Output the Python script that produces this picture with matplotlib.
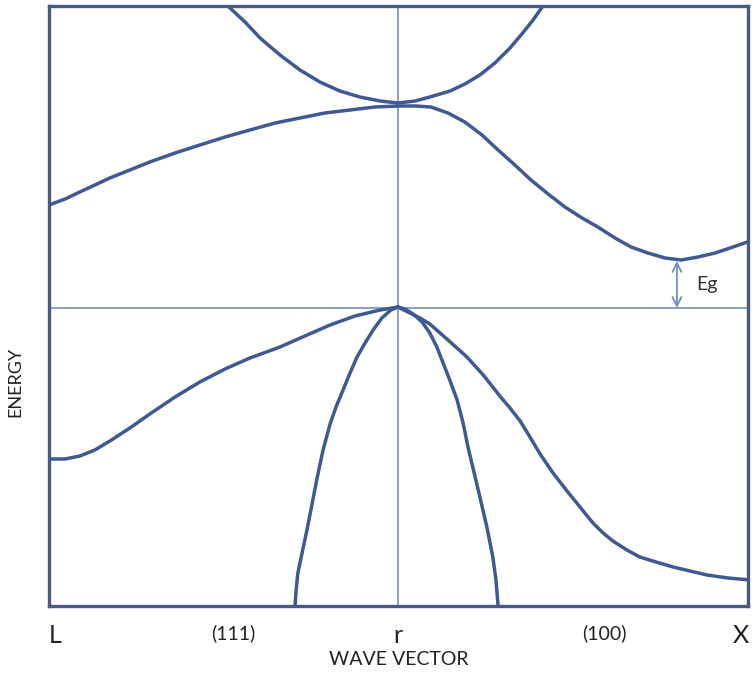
import matplotlib.pyplot as plt

# band diagram: k from L (-1) through Gamma (0) to X (+1)
# energy in arbitrary units, valence band maximum at 0

cb_upper_k = [-0.486, -0.437, -0.394, -0.337, -0.28, -0.223, -0.166, -0.109, -0.051, 0.0,
              0.049, 0.091, 0.149, 0.191, 0.234, 0.277, 0.32, 0.354, 0.386, 0.414]
cb_upper_e = [3.02, 2.86, 2.70, 2.53, 2.38, 2.26, 2.17, 2.11, 2.07, 2.05,
              2.07, 2.11, 2.17, 2.24, 2.33, 2.45, 2.60, 2.74, 2.88, 3.02]

cb_lower_k = [-0.997, -0.951, -0.909, -0.866, -0.823, -0.766, -0.709, -0.637, -0.566, -0.494,
              -0.423, -0.351, -0.28, -0.209, -0.137, -0.066, 0.0, 0.049, 0.094, 0.143,
              0.191, 0.24, 0.286, 0.334, 0.38, 0.429, 0.477, 0.526, 0.571, 0.62,
              0.666, 0.714, 0.763, 0.809, 0.857, 0.906, 0.949, 1.006]
cb_lower_e = [1.03, 1.09, 1.16, 1.23, 1.30, 1.38, 1.46, 1.55, 1.63, 1.71,
              1.78, 1.85, 1.90, 1.95, 1.98, 2.01, 2.02, 2.02, 2.01, 1.95,
              1.86, 1.73, 1.58, 1.43, 1.28, 1.14, 1.01, 0.90, 0.81, 0.70,
              0.61, 0.55, 0.50, 0.48, 0.51, 0.55, 0.60, 0.67]

hh_left_k = [-0.997, -0.951, -0.909, -0.866, -0.823, -0.766, -0.709, -0.637, -0.566,
             -0.494, -0.423, -0.337, -0.266, -0.194, -0.123, -0.051, 0.0]
hh_left_e = [-1.51, -1.51, -1.48, -1.42, -1.33, -1.20, -1.06, -0.89, -0.74,
             -0.61, -0.50, -0.39, -0.28, -0.17, -0.08, -0.02, 0.01]

hh_right_k = [0.0, 0.034, 0.063, 0.091, 0.143, 0.197, 0.246, 0.291, 0.32, 0.349,
              0.377, 0.406, 0.443, 0.483, 0.52, 0.557, 0.586, 0.614, 0.654, 0.691,
              0.737, 0.786, 0.834, 0.883, 0.943, 1.006]
hh_right_e = [0.01, -0.05, -0.10, -0.16, -0.32, -0.49, -0.68, -0.88, -1.00, -1.13,
              -1.29, -1.46, -1.65, -1.83, -1.99, -2.15, -2.25, -2.33, -2.42, -2.49,
              -2.54, -2.59, -2.63, -2.67, -2.70, -2.72]

lh_right_k = [0.0, 0.02, 0.043, 0.069, 0.091, 0.111, 0.129, 0.149, 0.169, 0.186,
              0.2, 0.217, 0.234, 0.254, 0.271, 0.28, 0.286]
lh_right_e = [0.01, -0.01, -0.06, -0.14, -0.25, -0.39, -0.55, -0.73, -0.92, -1.15,
              -1.39, -1.64, -1.89, -2.19, -2.49, -2.72, -2.98]

lh_left_k = [0.0, -0.02, -0.046, -0.071, -0.094, -0.117, -0.137, -0.157, -0.177, -0.194,
             -0.214, -0.231, -0.246, -0.26, -0.274, -0.286, -0.291, -0.294]
lh_left_e = [0.01, -0.02, -0.10, -0.22, -0.35, -0.49, -0.65, -0.82, -0.99, -1.16,
             -1.42, -1.70, -1.97, -2.22, -2.45, -2.65, -2.82, -2.98]

tick_pos = [-0.98, -0.47, 0.0, 0.59, 0.98]
tick_labels = ['L', '(111)', 'r', '(100)', 'X']
tick_sizes = [18, 14, 18, 14, 18]

gap_k = 0.797
gap_top = 0.47
gap_bottom = 0.0

band_color = '#3f5a92'
thin_color = '#8199c6'
frame_color = '#485a80'

plt.rcParams['font.family'] = ['Lato', 'DejaVu Sans']

fig = plt.figure(figsize=(7.54, 6.78), dpi=100)
ax = fig.add_axes([49 / 754, 1 - 606 / 678, 699 / 754, 600 / 678])

ax.axvline(0, color=thin_color, lw=1.3, zorder=1)
ax.axhline(0, color=thin_color, lw=1.3, zorder=1)

for k, e in [(cb_upper_k, cb_upper_e), (cb_lower_k, cb_lower_e),
             (hh_left_k, hh_left_e), (hh_right_k, hh_right_e),
             (lh_right_k, lh_right_e), (lh_left_k, lh_left_e)]:
    ax.plot(k, e, color=band_color, lw=2.5, solid_joinstyle='round', solid_capstyle='round', zorder=3)

ax.annotate('', xy=(gap_k, gap_top), xytext=(gap_k, gap_bottom),
            arrowprops=dict(arrowstyle='<->', color='#6f8fc4', lw=1.3, mutation_scale=16,
                            shrinkA=0, shrinkB=0))
ax.text(gap_k + 0.055, 0.23, 'Eg', fontsize=14, va='center', ha='left', color='#333333')

ax.set_xlim(-0.997, 1.0)
ax.set_ylim(-2.98, 3.02)

for s in ax.spines.values():
    s.set_color(frame_color)
    s.set_linewidth(2.4)

ax.set_yticks([])
ax.set_xticks(tick_pos)
ax.set_xticklabels(tick_labels)
for lbl, size in zip(ax.get_xticklabels(), tick_sizes):
    lbl.set_fontsize(size)
    lbl.set_color('#222222')
ax.tick_params(axis='x', length=0, pad=13)

ax.set_xlabel('WAVE VECTOR', fontsize=14, color='#222222', labelpad=3)
ax.set_ylabel('ENERGY', fontsize=13, color='#222222')
ax.yaxis.set_label_coords(-0.036, 0.373)

fig.savefig('out.png', dpi=100)
